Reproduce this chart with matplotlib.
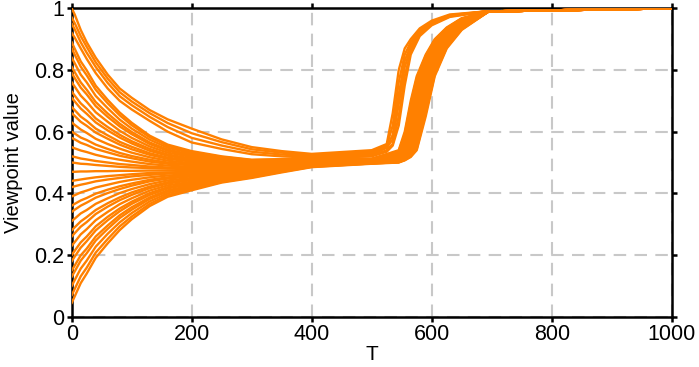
import numpy as np
import matplotlib
matplotlib.use("Agg")
import matplotlib.pyplot as plt

plt.rcParams['font.family'] = ['Liberation Sans', 'DejaVu Sans']

t_start = [0, 5, 15, 25, 40, 60, 80, 100, 130, 160, 200, 250, 300, 350, 400, 500]
t_early = [525, 535, 545, 555, 565, 580, 600, 630, 690, 1000]
t_late = [545, 555, 565, 575, 590, 605, 625, 650, 695, 1000]

# opinion of each agent (top to bottom) at the t_start knots
v_t0 = [1.00, 0.97, 0.95, 0.92, 0.89, 0.87, 0.84, 0.81, 0.79, 0.76, 0.73, 0.71, 0.68,
        0.66, 0.63, 0.60, 0.58, 0.55, 0.52, 0.50, 0.47, 0.44, 0.42, 0.39, 0.36, 0.34,
        0.31, 0.28, 0.26, 0.23, 0.20, 0.18, 0.15, 0.13, 0.10, 0.07, 0.045]
v_t5 = [0.98, 0.952, 0.932, 0.905, 0.869, 0.850, 0.822, 0.793, 0.774, 0.746, 0.717, 0.698,
        0.670, 0.651, 0.622, 0.594, 0.575, 0.546, 0.518, 0.499, 0.470, 0.442, 0.423,
        0.394, 0.366, 0.347, 0.318, 0.290, 0.271, 0.242, 0.214, 0.195, 0.166, 0.147,
        0.119, 0.090, 0.066]
v_t15 = [0.93, 0.91, 0.89, 0.87, 0.828, 0.811, 0.785, 0.760, 0.743, 0.717, 0.692, 0.675,
         0.649, 0.632, 0.607, 0.581, 0.564, 0.539, 0.513, 0.496, 0.471, 0.445, 0.428,
         0.403, 0.377, 0.360, 0.335, 0.309, 0.292, 0.267, 0.241, 0.224, 0.199, 0.182,
         0.156, 0.131, 0.109]
v_t25 = [0.89, 0.875, 0.856, 0.836, 0.799, 0.783, 0.760, 0.736, 0.721, 0.697, 0.674, 0.658,
         0.635, 0.619, 0.596, 0.573, 0.557, 0.534, 0.510, 0.495, 0.471, 0.448, 0.432,
         0.409, 0.385, 0.370, 0.346, 0.323, 0.307, 0.284, 0.260, 0.245, 0.221, 0.206,
         0.182, 0.159, 0.140]
v_t40 = [0.84, 0.825, 0.81, 0.79, 0.749, 0.736, 0.716, 0.696, 0.683, 0.663, 0.643, 0.630,
         0.610, 0.597, 0.577, 0.558, 0.544, 0.525, 0.505, 0.492, 0.472, 0.452, 0.439,
         0.419, 0.399, 0.386, 0.366, 0.346, 0.333, 0.313, 0.293, 0.280, 0.260, 0.247,
         0.227, 0.208, 0.191]
v_t60 = [0.785, 0.772, 0.758, 0.74, 0.703, 0.692, 0.676, 0.659, 0.648, 0.632, 0.615, 0.604,
         0.588, 0.577, 0.560, 0.544, 0.533, 0.516, 0.500, 0.489, 0.472, 0.456, 0.445,
         0.428, 0.412, 0.401, 0.384, 0.368, 0.357, 0.340, 0.324, 0.313, 0.296, 0.285,
         0.269, 0.252, 0.238]
v_t80 = [0.74, 0.728, 0.715, 0.70, 0.662, 0.653, 0.639, 0.626, 0.617, 0.603, 0.590, 0.581,
         0.567, 0.558, 0.545, 0.531, 0.522, 0.509, 0.495, 0.486, 0.473, 0.459, 0.450,
         0.437, 0.423, 0.414, 0.401, 0.387, 0.378, 0.365, 0.351, 0.342, 0.329, 0.320,
         0.306, 0.293, 0.281]
v_t100 = [0.71, 0.698, 0.686, 0.672, 0.629, 0.621, 0.610, 0.599, 0.592, 0.580, 0.569, 0.562,
          0.551, 0.543, 0.532, 0.521, 0.514, 0.503, 0.492, 0.484, 0.473, 0.462, 0.455,
          0.444, 0.432, 0.425, 0.414, 0.403, 0.395, 0.384, 0.373, 0.366, 0.355, 0.347,
          0.336, 0.325, 0.316]
v_t130 = [0.67, 0.66, 0.648, 0.635, 0.587, 0.582, 0.574, 0.565, 0.560, 0.552, 0.544, 0.538,
          0.530, 0.525, 0.517, 0.509, 0.503, 0.495, 0.487, 0.482, 0.474, 0.466, 0.460,
          0.452, 0.444, 0.439, 0.430, 0.422, 0.417, 0.409, 0.401, 0.395, 0.387, 0.382,
          0.374, 0.366, 0.359]
v_t160 = [0.64, 0.628, 0.615, 0.60, 0.558, 0.554, 0.548, 0.542, 0.538, 0.532, 0.526, 0.522,
          0.516, 0.512, 0.506, 0.500, 0.496, 0.490, 0.484, 0.480, 0.474, 0.468, 0.464,
          0.458, 0.452, 0.448, 0.442, 0.436, 0.432, 0.426, 0.420, 0.416, 0.410, 0.406,
          0.400, 0.394, 0.389]
v_t200 = [0.61, 0.595, 0.58, 0.565, 0.537, 0.534, 0.530, 0.525, 0.522, 0.518, 0.513, 0.510,
          0.506, 0.503, 0.498, 0.494, 0.491, 0.486, 0.482, 0.479, 0.474, 0.470, 0.467,
          0.462, 0.458, 0.455, 0.450, 0.446, 0.443, 0.438, 0.434, 0.431, 0.426, 0.423,
          0.419, 0.414, 0.410]
v_t250 = [0.575, 0.566, 0.555, 0.544, 0.520, 0.518, 0.515, 0.512, 0.510, 0.507, 0.504, 0.502,
          0.499, 0.497, 0.494, 0.491, 0.489, 0.486, 0.483, 0.481, 0.477, 0.474, 0.472,
          0.469, 0.466, 0.464, 0.461, 0.458, 0.456, 0.453, 0.450, 0.448, 0.445, 0.443,
          0.440, 0.437, 0.435]
v_t300 = [0.55, 0.543, 0.535, 0.527, 0.509, 0.508, 0.506, 0.503, 0.502, 0.500, 0.498, 0.496,
          0.494, 0.493, 0.491, 0.489, 0.487, 0.485, 0.483, 0.482, 0.480, 0.478, 0.476,
          0.474, 0.472, 0.471, 0.468, 0.466, 0.465, 0.463, 0.461, 0.459, 0.457, 0.456,
          0.454, 0.452, 0.450]
v_t350 = [0.537, 0.532, 0.526, 0.52, 0.511, 0.510, 0.508, 0.507, 0.506, 0.504, 0.503, 0.502,
          0.500, 0.499, 0.498, 0.496, 0.495, 0.494, 0.492, 0.491, 0.490, 0.488, 0.487,
          0.486, 0.484, 0.483, 0.482, 0.480, 0.479, 0.478, 0.476, 0.475, 0.474, 0.473,
          0.471, 0.470, 0.468]
v_t400 = [0.528, 0.524, 0.52, 0.516, 0.515, 0.514, 0.513, 0.512, 0.511, 0.510, 0.509, 0.508,
          0.507, 0.506, 0.505, 0.504, 0.504, 0.503, 0.502, 0.501, 0.500, 0.499, 0.498,
          0.497, 0.496, 0.495, 0.494, 0.493, 0.492, 0.491, 0.490, 0.490, 0.489, 0.488,
          0.487, 0.486, 0.485]
v_t500 = [0.54, 0.535, 0.53, 0.525, 0.522, 0.52, 0.512, 0.512, 0.511, 0.511, 0.510, 0.510,
          0.509, 0.509, 0.508, 0.508, 0.507, 0.507, 0.506, 0.505, 0.505, 0.504, 0.504,
          0.503, 0.503, 0.502, 0.502, 0.501, 0.501, 0.500, 0.499, 0.499, 0.498, 0.498,
          0.497, 0.497, 0.496]

# the first six agents jump early (t_early knots)
e525 = [0.560, 0.555, 0.550, 0.548, 0.540, 0.535]
e535 = [0.66, 0.62, 0.59, 0.575, 0.56, 0.555]
e545 = [0.80, 0.76, 0.72, 0.69, 0.65, 0.62]
e555 = [0.87, 0.85, 0.83, 0.81, 0.78, 0.75]
e565 = [0.90, 0.89, 0.88, 0.87, 0.86, 0.85]
e580 = [0.935, 0.93, 0.925, 0.92, 0.915, 0.91]
e600 = [0.96, 0.955, 0.952, 0.95, 0.948, 0.945]
e630 = [0.98, 0.978, 0.976, 0.975, 0.974, 0.972]
e690 = [0.99, 0.99, 0.99, 0.99, 0.99, 0.99]
e1000 = [1.0, 1.0, 1.0, 1.0, 1.0, 1.0]

# the other 31 agents jump later (t_late knots)
l545 = [0.540, 0.537, 0.535, 0.532, 0.530, 0.527, 0.526, 0.524, 0.522, 0.520, 0.518,
        0.517, 0.516, 0.514, 0.513, 0.512, 0.511, 0.510, 0.509, 0.508, 0.507, 0.506,
        0.505, 0.505, 0.504, 0.503, 0.502, 0.502, 0.501, 0.501, 0.500]
l555 = [0.600, 0.592, 0.584, 0.576, 0.568, 0.560, 0.556, 0.552, 0.548, 0.544, 0.540,
        0.537, 0.535, 0.532, 0.530, 0.527, 0.526, 0.524, 0.522, 0.520, 0.518, 0.517,
        0.516, 0.514, 0.513, 0.512, 0.511, 0.510, 0.509, 0.508, 0.507]
l565 = [0.700, 0.690, 0.680, 0.670, 0.660, 0.650, 0.640, 0.630, 0.620, 0.610, 0.600,
        0.592, 0.584, 0.576, 0.568, 0.560, 0.556, 0.552, 0.548, 0.544, 0.540, 0.537,
        0.535, 0.532, 0.530, 0.527, 0.526, 0.524, 0.522, 0.520, 0.518]
l575 = [0.780, 0.773, 0.766, 0.759, 0.752, 0.745, 0.736, 0.727, 0.718, 0.709, 0.700,
        0.690, 0.680, 0.670, 0.660, 0.650, 0.640, 0.630, 0.620, 0.610, 0.600, 0.592,
        0.584, 0.576, 0.568, 0.560, 0.556, 0.552, 0.548, 0.544, 0.540]
l590 = [0.850, 0.846, 0.842, 0.838, 0.834, 0.830, 0.825, 0.820, 0.815, 0.810, 0.805,
        0.800, 0.795, 0.790, 0.785, 0.780, 0.773, 0.766, 0.759, 0.752, 0.745, 0.736,
        0.727, 0.718, 0.709, 0.700, 0.690, 0.680, 0.670, 0.660, 0.650]
l605 = [0.900, 0.897, 0.894, 0.891, 0.888, 0.885, 0.882, 0.879, 0.876, 0.873, 0.870,
        0.866, 0.862, 0.858, 0.854, 0.850, 0.846, 0.842, 0.838, 0.834, 0.830, 0.825,
        0.820, 0.815, 0.810, 0.805, 0.800, 0.795, 0.790, 0.785, 0.780]
l625 = [0.938, 0.936, 0.935, 0.933, 0.932, 0.930, 0.928, 0.927, 0.925, 0.924, 0.922,
        0.920, 0.918, 0.916, 0.914, 0.912, 0.910, 0.907, 0.905, 0.902, 0.900, 0.897,
        0.894, 0.891, 0.888, 0.885, 0.882, 0.879, 0.876, 0.873, 0.870]
l650 = [0.968, 0.967, 0.966, 0.966, 0.965, 0.964, 0.963, 0.962, 0.962, 0.961, 0.960,
        0.959, 0.957, 0.956, 0.954, 0.953, 0.952, 0.950, 0.949, 0.947, 0.945, 0.943,
        0.942, 0.941, 0.940, 0.938, 0.936, 0.935, 0.933, 0.932, 0.930]
l695 = [0.99, 0.99, 0.99, 0.99, 0.99, 0.99, 0.99, 0.99, 0.99, 0.99, 0.99, 0.99, 0.99,
        0.99, 0.99, 0.99, 0.99, 0.99, 0.99, 0.99, 0.99, 0.99, 0.99, 0.99, 0.99, 0.99,
        0.99, 0.99, 0.99, 0.99, 0.99]
l1000 = [1.0, 1.0, 1.0, 1.0, 1.0, 1.0, 1.0, 1.0, 1.0, 1.0, 1.0, 1.0, 1.0, 1.0, 1.0, 1.0,
         1.0, 1.0, 1.0, 1.0, 1.0, 1.0, 1.0, 1.0, 1.0, 1.0, 1.0, 1.0, 1.0, 1.0, 1.0]

x_ticks = [0, 200, 400, 600, 800, 1000]
y_ticks = [0, 0.2, 0.4, 0.6, 0.8, 1]
y_tick_labels = ['0', '0.2', '0.4', '0.6', '0.8', '1']

start = np.column_stack([v_t0, v_t5, v_t15, v_t25, v_t40, v_t60, v_t80, v_t100, v_t130,
                         v_t160, v_t200, v_t250, v_t300, v_t350, v_t400, v_t500])
early = np.column_stack([e525, e535, e545, e555, e565, e580, e600, e630, e690, e1000])
late = np.column_stack([l545, l555, l565, l575, l590, l605, l625, l650, l695, l1000])
n_early = len(e525)

fig = plt.figure(figsize=(6.99, 3.67), dpi=100)
ax = fig.add_axes([0.1026, 0.137, 0.8584, 0.8403])

for i in range(len(v_t0)):
    if i < n_early:
        x = t_start + t_early
        y = list(start[i]) + list(early[i])
    else:
        x = t_start + t_late
        y = list(start[i]) + list(late[i - n_early])
    ax.plot(x, y, color='#ff8000', lw=1.7, zorder=3, solid_joinstyle='round')

ax.set_xlim(0, 1000)
ax.set_ylim(0, 1)
ax.set_xticks(x_ticks)
ax.set_yticks(y_ticks)
ax.set_yticklabels(y_tick_labels)
ax.grid(True, color='#c8c8c8', lw=1.5, linestyle=(0, (6, 4)))
ax.set_axisbelow(True)

for sp in ax.spines.values():
    sp.set_linewidth(1.8)
    sp.set_zorder(2.5)
ax.tick_params(direction='out', length=3.5, width=1.8, top=True, right=True,
               labelsize=15.5, pad=2)

ax.set_xlabel('T', fontsize=15, labelpad=0)
ax.set_ylabel('Viewpoint value', fontsize=14.5, labelpad=8)

fig.savefig('out.png', dpi=100)
